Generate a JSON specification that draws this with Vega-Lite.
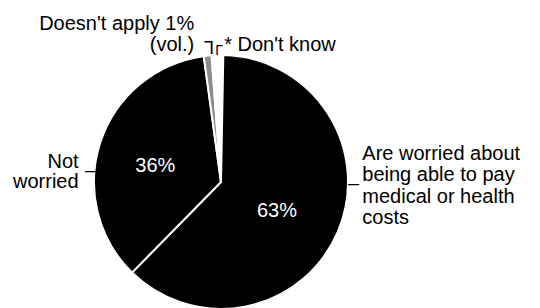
{
  "$schema": "https://vega.github.io/schema/vega-lite/v6.json",
  "width": 254,
  "height": 254,
  "autosize": "none",
  "padding": {"left": 94, "top": 55, "right": 192, "bottom": 0},
  "background": "white",
  "config": {
    "view": {"stroke": null},
    "text": {"font": "Liberation Sans", "fontSize": 20, "fill": "black"}
  },
  "data": {
    "values": [
      {"category": "Are worried about being able to pay medical or health costs", "share": 63, "label": "63%", "name": "Are worried about\nbeing able to pay\nmedical or health\ncosts", "order": 1},
      {"category": "Not worried", "share": 36, "label": "36%", "name": "Not\nworried", "order": 2},
      {"category": "Doesn't apply (vol.)", "share": 1, "label": "1%", "name": "Doesn't apply 1%\n(vol.)", "order": 3},
      {"category": "Don't know", "share": 0.5, "label": "*", "name": "* Don't know", "order": 4}
    ]
  },
  "encoding": {
    "theta": {"field": "share", "type": "quantitative", "stack": true, "scale": {"domain": [0, 101.5], "range": [0.01833, 6.30152]}},
    "order": {"field": "order", "type": "quantitative"}
  },
  "layer": [
    {
      "mark": {"type": "arc", "outerRadius": 127, "stroke": "white", "strokeWidth": 2},
      "encoding": {
        "color": {
          "field": "category",
          "type": "nominal",
          "scale": {
            "domain": ["Are worried about being able to pay medical or health costs", "Not worried", "Doesn't apply (vol.)", "Don't know"],
            "range": ["#000000", "#000000", "#8c8c8c", "#ffffff"]
          },
          "legend": null
        }
      }
    },
    {
      "mark": {"type": "text", "radius": 65, "dx": -4, "dy": 10, "align": "center", "baseline": "alphabetic", "fill": "white"},
      "encoding": {"text": {"condition": {"test": "datum.order <= 2", "field": "label"}, "value": ""}}
    },
    {
      "mark": {"type": "text", "radius": 150, "dx": 3, "dy": -80.5, "align": "left", "baseline": "alphabetic", "lineBreak": "\n", "lineHeight": 21.5},
      "encoding": {"text": {"condition": {"test": "datum.order === 1", "field": "name"}, "value": ""}}
    },
    {
      "mark": {"type": "text", "radius": 150, "dx": 0, "dy": 33, "align": "right", "baseline": "alphabetic", "lineBreak": "\n", "lineHeight": 20},
      "encoding": {"text": {"condition": {"test": "datum.order === 2", "field": "name"}, "value": ""}}
    },
    {
      "mark": {"type": "text", "radius": 150, "dx": -11, "dy": -3, "align": "right", "baseline": "alphabetic", "lineBreak": "\n", "lineHeight": 21.5},
      "encoding": {"text": {"condition": {"test": "datum.order === 3", "field": "name"}, "value": ""}}
    },
    {
      "mark": {"type": "text", "radius": 150, "dx": 12, "dy": 19, "align": "left", "baseline": "alphabetic"},
      "encoding": {"text": {"condition": {"test": "datum.order === 4", "field": "name"}, "value": ""}}
    },
    {
      "mark": {"type": "text", "radius": 127, "dx": 10, "dy": -41, "align": "left", "baseline": "alphabetic"},
      "encoding": {"text": {"condition": {"test": "datum.order === 1", "value": "–"}, "value": ""}}
    },
    {
      "mark": {"type": "text", "radius": 127, "dx": -15.5, "dy": 35, "align": "left", "baseline": "alphabetic"},
      "encoding": {"text": {"condition": {"test": "datum.order === 2", "value": "–"}, "value": ""}}
    },
    {
      "mark": {"type": "text", "radius": 127, "dx": -6.4, "dy": 14.7, "angle": 180, "align": "left", "baseline": "alphabetic", "fontSize": 18.5},
      "encoding": {"text": {"condition": {"test": "datum.order === 3", "value": "L"}, "value": ""}}
    },
    {
      "mark": {"type": "text", "radius": 127, "dx": 1.75, "dy": -0.2, "align": "left", "baseline": "alphabetic", "fontSize": 14},
      "encoding": {"text": {"condition": {"test": "datum.order === 4", "value": "Γ"}, "value": ""}}
    }
  ]
}
